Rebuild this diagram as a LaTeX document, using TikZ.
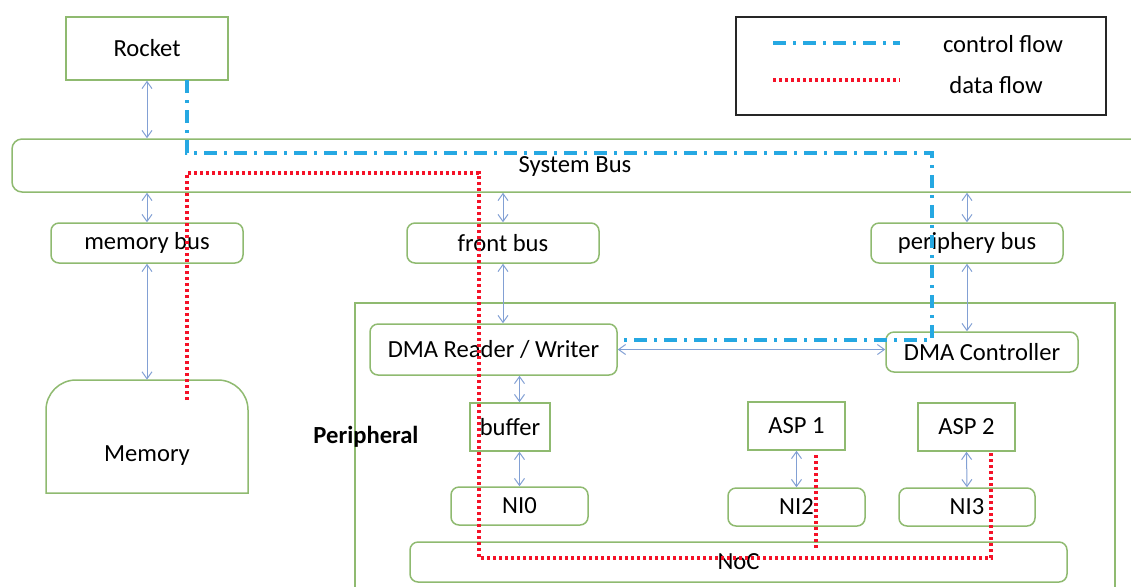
\documentclass[tikz,border=0pt]{standalone}
\usepackage{fontspec}
\setmainfont{Carlito}
\usetikzlibrary{arrows.meta,calc}
\definecolor{boxgreen}{RGB}{143,186,112}
\definecolor{linkblue}{RGB}{130,160,212}
\definecolor{ctrlblue}{RGB}{38,168,226}
\definecolor{datared}{RGB}{245,18,40}
\tikzset{
  every node/.style={font=\fontsize{12.3pt}{14pt}\selectfont, inner sep=0pt},
  sqbox/.style={draw=boxgreen, line width=0.75pt},
  rbox/.style={draw=boxgreen, line width=0.75pt, rounded corners=4pt},
  link/.style={draw=linkblue, line width=0.5pt,
    {Straight Barb[length=3.5pt,width=5pt]}-{Straight Barb[length=3.5pt,width=5pt]}},
  ctrl/.style={draw=ctrlblue, line width=1.7pt,
    dash pattern=on 6.5pt off 3.5pt on 1.5pt off 3.5pt},
  data/.style={draw=datared, line width=1.7pt,
    dash pattern=on 1.6pt off 1.4pt}
}
\begin{document}
\begin{tikzpicture}[x=0.5pt,y=-0.5pt]
\useasboundingbox (0,0) rectangle (1131,586);
\clip (0,0) rectangle (1131,586);

% legend
\node[draw=black!85, line width=0.7pt, minimum width=185pt, minimum height=49pt] (legend) at (921,66) {};
\coordinate (lc0) at (773,43); \coordinate (lc1) at (900,43);
\coordinate (ld0) at (773,80); \coordinate (ld1) at (900,80);
\draw[ctrl] (lc0) -- (lc1);
\draw[data] (ld0) -- (ld1);
\node (legctl) at (1003,44) {control flow};
\node (legdata) at (996,85) {data flow};

% top level
\node[sqbox, minimum width=81pt, minimum height=31.5pt] (rocket) at (147,48.5) {Rocket};
\node[draw=boxgreen, line width=0.75pt, rounded corners=5pt, minimum width=569pt, minimum height=26.5pt] (sysbus) at (581,165.5) {};
\node (sysbustext) at (575,166) {System Bus};

\node[rbox, minimum width=96pt, minimum height=20pt] (membus) at (147,243) {memory bus};
\node[rbox, minimum width=96pt, minimum height=20pt] (frontbus) at (503,243) {front bus};
\node[rbox, minimum width=96pt, minimum height=20pt] (peribus) at (967,243) {periphery bus};

% memory: rounded on top only
\draw[draw=boxgreen, line width=0.75pt] (46,493) [rounded corners=15pt] -- (46,380) -- (248,380) [sharp corners] -- (248,493) -- cycle;
\node[minimum width=101pt, minimum height=56.5pt] (memory) at (147,436.5) {};
\node (memtext) at (147,456) {Memory};

% peripheral subsystem
\draw[draw=boxgreen, line width=0.75pt] (355,303) rectangle (1115,620);
\node[font=\fontsize{12.3pt}{14pt}\selectfont\bfseries] (periphlabel) at (366,437) {Peripheral};

\node[rbox, minimum width=123.5pt, minimum height=25.5pt] (dmarw) at (493.5,349.5) {DMA Reader / Writer};
\node[rbox, minimum width=96pt, minimum height=20pt] (dmactl) at (982,352) {DMA Controller};
\node[sqbox, minimum width=40pt, minimum height=24pt] (buffer) at (510,427) {buffer};
\node[rbox, minimum width=68.5pt, minimum height=19pt] (ni0) at (519.5,506) {NI0};
\node[sqbox, minimum width=48.5pt, minimum height=24pt] (asp1) at (796.5,426) {ASP 1};
\node[rbox, minimum width=68.5pt, minimum height=19pt] (ni2) at (796.5,507) {NI2};
\node[sqbox, minimum width=48.5pt, minimum height=24pt] (asp2) at (966.5,427) {ASP 2};
\node[rbox, minimum width=68pt, minimum height=19pt] (ni3) at (967,507) {NI3};
\node[rbox, minimum width=328.5pt, minimum height=20pt] (noc) at (738.5,562) {NoC};

% bus links
\draw[link] (rocket.south) -- (rocket.south |- sysbus.north);
\draw[link] (sysbus.south -| membus.north) -- (membus.north);
\draw[link] (membus.south) -- (membus.south |- memory.north);
\draw[link] (sysbus.south -| frontbus.north) -- (frontbus.north);
\draw[link] (frontbus.south) -- (frontbus.south |- dmarw.north);
\draw[link] (sysbus.south -| peribus.north) -- (peribus.north);
\draw[link] (peribus.south) -- (peribus.south |- dmactl.north);
\draw[link] (dmarw.east) -- (dmarw.east -| dmactl.west);
\draw[link] (ni0.north |- dmarw.south) -- (ni0.north |- buffer.north);
\draw[link] (ni0.north |- buffer.south) -- (ni0.north);
\draw[link] (asp1.south) -- (ni2.north);
\draw[link] (asp2.south) -- (ni3.north);

% control flow
\coordinate (c0) at (187,80);
\coordinate (c1) at (932,153);
\coordinate (c2) at (932,340);
\draw[ctrl] (c0) |- (c1) -- (c2) -- (c2 -| dmarw.east);

% data flow
\coordinate (d0) at (187,400);
\coordinate (d1) at (479,173);
\coordinate (d2) at (991,558);
\coordinate (d3) at (991,452);
\coordinate (e0) at (816,455);
\coordinate (e1) at (816,550);
\draw[data] (d0) |- (d1) |- (d2) -- (d3);
\draw[data] (e0) -- (e1);
\end{tikzpicture}
\end{document}
